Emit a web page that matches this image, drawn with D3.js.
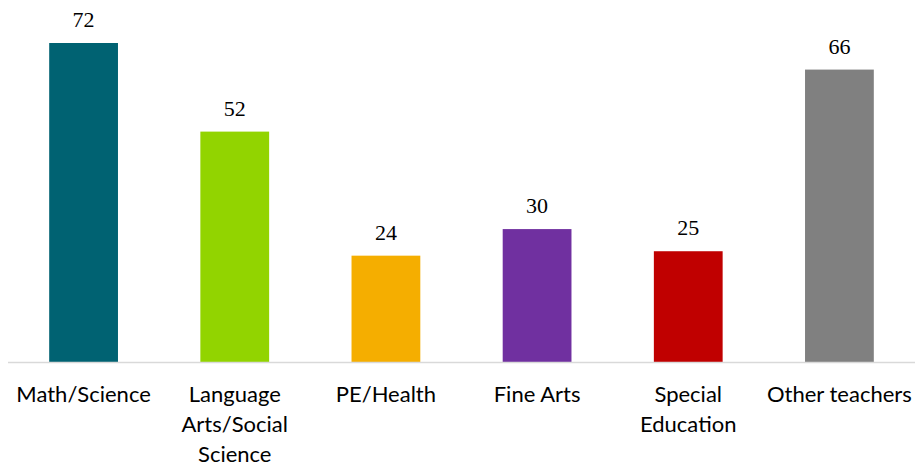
<!DOCTYPE html>
<html><head><meta charset="utf-8">
<script src="https://cdn.jsdelivr.net/npm/d3@7"></script>
<style>body{margin:0;background:#fff}</style>
</head><body>
<svg id="c" width="915" height="466"></svg>
<script>
const categories = [["Math/Science"], ["Language", "Arts/Social", "Science"], ["PE/Health"], ["Fine Arts"], ["Special", "Education"], ["Other teachers"]];
const values = [72, 52, 24, 30, 25, 66];
const colors = ["#006272", "#92d400", "#f5ae00", "#7030a0", "#c00000", "#808080"];

const svg = d3.select("#c");
const x = d3.scaleBand().domain(d3.range(values.length)).range([8, 915]).paddingInner(0.545).paddingOuter(0.2725);
const y = d3.scaleLinear().domain([0, 72]).range([362, 43]);

svg.selectAll("rect.bar").data(values).join("rect")
  .attr("x", (d, i) => x(i)).attr("y", d => y(d))
  .attr("width", x.bandwidth()).attr("height", d => y(0) - y(d))
  .attr("fill", (d, i) => colors[i]);

svg.append("line").attr("x1", 8).attr("x2", 915).attr("y1", 362.5).attr("y2", 362.5)
  .attr("stroke", "#d9d9d9").attr("stroke-width", 1.5);

svg.selectAll("text.val").data(values).join("text")
  .attr("x", (d, i) => x(i) + x.bandwidth() / 2).attr("y", d => y(d) - 16)
  .attr("text-anchor", "middle").attr("font-family", "Liberation Serif, Times New Roman, serif")
  .attr("font-size", 22).attr("fill", "#000").text(d => d);

const lab = svg.selectAll("text.cat").data(categories).join("text")
  .attr("text-anchor", "middle").attr("font-family", "Lato, sans-serif")
  .attr("font-size", 22).attr("fill", "#000");
lab.each(function(lines, i) {
  d3.select(this).selectAll("tspan").data(lines).join("tspan")
    .attr("x", x(i) + x.bandwidth() / 2).attr("y", (l, j) => 402 + j * 30).text(l => l);
});
</script>
</body></html>
